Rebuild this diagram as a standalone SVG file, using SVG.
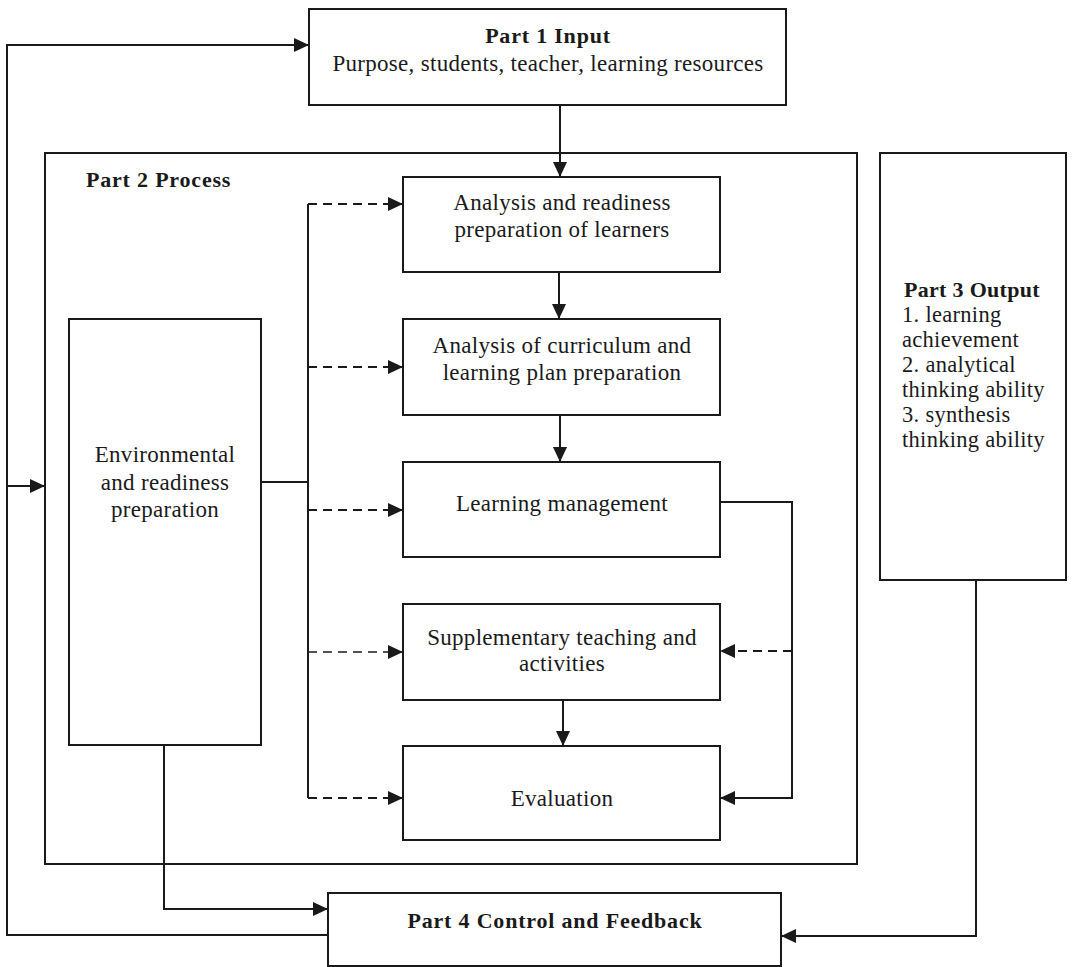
<svg xmlns="http://www.w3.org/2000/svg" width="1072" height="967" viewBox="0 0 1072 967">
<style>
.box{fill:#fff;stroke:#1a1a1a;stroke-width:2}
.frame{fill:none;stroke:#1a1a1a;stroke-width:2}
.t{font-family:"Liberation Serif","Times New Roman",serif;font-size:23px;letter-spacing:0.3px;fill:#1a1a1a;text-anchor:middle}
.b{font-weight:bold;font-size:22px;letter-spacing:0.8px}
.l{text-anchor:start}
.c{fill:none;stroke:#1a1a1a;stroke-width:2}
.d{fill:none;stroke:#1a1a1a;stroke-width:2.2;stroke-dasharray:9 6}
</style>
<defs>
<marker id="ah" markerUnits="userSpaceOnUse" markerWidth="16" markerHeight="14" refX="15" refY="7" orient="auto">
<path d="M0,0 L15,7 L0,14 Z" fill="#1a1a1a"/>
</marker>
</defs>
<rect width="1072" height="967" fill="#fff"/>
<g id="part2">
<rect class="frame" x="45" y="153" width="812" height="711"/>
<text class="t b l" x="86" y="187">Part 2 Process</text>
</g>
<g id="part1">
<rect class="box" x="309" y="9" width="477" height="96"/>
<text class="t b" x="548" y="43">Part 1 Input</text>
<text class="t" x="548" y="71">Purpose, students, teacher, learning resources</text>
</g>
<g id="part3">
<rect class="box" x="880" y="153" width="186" height="427"/>
<text class="t b l" x="904" y="297" style="letter-spacing:0.3px">Part 3 Output</text>
<text class="t l" x="902" y="322" style="font-size:22.5px">1. learning</text>
<text class="t l" x="902" y="347" style="font-size:22.5px">achievement</text>
<text class="t l" x="902" y="372" style="font-size:22.5px">2. analytical</text>
<text class="t l" x="902" y="397" style="font-size:22.5px">thinking ability</text>
<text class="t l" x="902" y="422" style="font-size:22.5px">3. synthesis</text>
<text class="t l" x="902" y="447" style="font-size:22.5px">thinking ability</text>
</g>
<g id="part4">
<rect class="box" x="328" y="893" width="453" height="73"/>
<text class="t b" x="555" y="928">Part 4 Control and Feedback</text>
</g>
<g id="env">
<rect class="box" x="69" y="319" width="192" height="426"/>
<text class="t" x="165" y="462">Environmental</text>
<text class="t" x="165" y="490">and readiness</text>
<text class="t" x="165" y="517">preparation</text>
</g>
<g id="s1">
<rect class="box" x="403" y="177" width="317" height="95"/>
<text class="t" x="562" y="210">Analysis and readiness</text>
<text class="t" x="562" y="237">preparation of learners</text>
</g>
<g id="s2">
<rect class="box" x="403" y="319" width="317" height="96"/>
<text class="t" x="562" y="353">Analysis of curriculum and</text>
<text class="t" x="562" y="380">learning plan preparation</text>
</g>
<g id="s3">
<rect class="box" x="403" y="462" width="317" height="95"/>
<text class="t" x="562" y="511">Learning management</text>
</g>
<g id="s4">
<rect class="box" x="403" y="604" width="317" height="96"/>
<text class="t" x="562" y="645">Supplementary teaching and</text>
<text class="t" x="562" y="671">activities</text>
</g>
<g id="s5">
<rect class="box" x="403" y="746" width="317" height="94"/>
<text class="t" x="562" y="806">Evaluation</text>
</g>
<g id="connectors">
<path class="c" d="M560,105 V177" marker-end="url(#ah)"/>
<path class="c" d="M559,272 V319" marker-end="url(#ah)"/>
<path class="c" d="M560,415 V462" marker-end="url(#ah)"/>
<path class="c" d="M563,700 V746" marker-end="url(#ah)"/>
<path class="c" d="M328,935 H7 V45 H309" marker-end="url(#ah)"/>
<path class="c" d="M7,486 H45" marker-end="url(#ah)"/>
<path class="c" d="M164,745 V909 H328" marker-end="url(#ah)"/>
<path class="c" d="M976,580 V936 H781" marker-end="url(#ah)"/>
<path class="c" d="M261,482 H308"/>
<path class="c" d="M308,204 V798"/>
<path class="d" d="M308,204 H403" marker-end="url(#ah)"/>
<path class="d" d="M308,367 H403" marker-end="url(#ah)"/>
<path class="d" d="M308,510 H403" marker-end="url(#ah)"/>
<path class="d" d="M308,652 H403" marker-end="url(#ah)" style="stroke-width:1.6"/>
<path class="d" d="M308,798 H403" marker-end="url(#ah)"/>
<path class="c" d="M720,502 H792 V798 H720" marker-end="url(#ah)"/>
<path class="d" d="M792,651 H720" marker-end="url(#ah)"/>
</g>
</svg>
